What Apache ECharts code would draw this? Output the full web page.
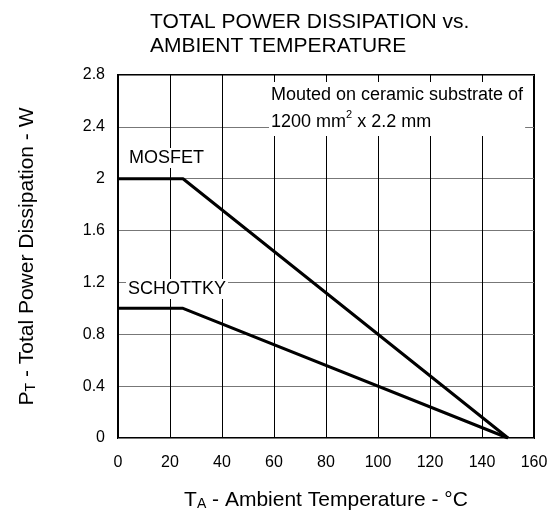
<!DOCTYPE html>
<html>
<head>
<meta charset="utf-8">
<script src="https://cdn.jsdelivr.net/npm/echarts@6/dist/echarts.min.js"></script>
<style>
  html, body { margin: 0; padding: 0; background: #fff; }
  #chart { width: 559px; height: 519px; }
</style>
</head>
<body>
<div id="chart"></div>
<script>
// 横轴温度 / 纵轴功耗
var xTicks = [0, 20, 40, 60, 80, 100, 120, 140, 160]
var yTicks = [0, 0.4, 0.8, 1.2, 1.6, 2, 2.4, 2.8]
var mosfetTemp = [0, 25, 150]
var mosfetPower = [2, 2, 0]
var schottkyTemp = [0, 25, 150]
var schottkyPower = [1, 1, 0]

function pairs (xs, ys) {
  return xs.map(function (x, i) { return [x, ys[i]] })
}

var chart = echarts.init(document.getElementById('chart'))
var font = 'Liberation Sans, Arial, sans-serif'

var option = {
  backgroundColor: '#fff',
  animation: false,
  title: {
    text: 'TOTAL POWER DISSIPATION vs.\nAMBIENT TEMPERATURE',
    left: 145,
    top: 5,
    textStyle: {
      fontFamily: font,
      fontWeight: 'normal',
      fontSize: 21,
      lineHeight: 24,
      color: '#000'
    }
  },
  grid: {
    left: 118,
    right: 25,
    top: 75,
    bottom: 81,
    show: true,
    borderColor: '#000',
    borderWidth: 2,
    backgroundColor: 'transparent'
  },
  xAxis: {
    type: 'value',
    min: xTicks[0],
    max: xTicks[xTicks.length - 1],
    interval: 20,
    name: '{b|T}{s|A}{b| - Ambient Temperature - °C}',
    nameLocation: 'middle',
    nameGap: 52,
    nameTextStyle: {
      rich: {
        b: { fontFamily: font, fontSize: 21, color: '#000' },
        s: { fontFamily: font, fontSize: 14, color: '#000', verticalAlign: 'bottom', padding: [7, 0, 0, 0] }
      }
    },
    axisLine: { show: false },
    axisTick: { show: false },
    axisLabel: { fontFamily: font, fontSize: 16, color: '#000', margin: 17 },
    splitLine: { show: true, lineStyle: { color: '#000', width: 1 } }
  },
  yAxis: {
    type: 'value',
    min: yTicks[0],
    max: yTicks[yTicks.length - 1],
    interval: 0.4,
    name: '{b|P}{s|T}{b| - Total Power Dissipation - W}',
    nameLocation: 'middle',
    nameGap: 80,
    nameRotate: 90,
    nameTextStyle: {
      rich: {
        b: { fontFamily: font, fontSize: 21, color: '#000' },
        s: { fontFamily: font, fontSize: 14, color: '#000', verticalAlign: 'bottom', padding: [7, 0, 0, 0] }
      }
    },
    axisLine: { show: false },
    axisTick: { show: false },
    axisLabel: { fontFamily: font, fontSize: 16, color: '#000', margin: 13 },
    splitLine: { show: true, lineStyle: { color: '#777', width: 1 } }
  },
  graphic: [
    {
      type: 'text',
      left: 269,
      top: 82,
      z: 50,
      style: {
        text: '{a|Mouted on ceramic substrate of}\n{a|1200 mm}{sup|2}{a| x 2.2 mm}',
        backgroundColor: '#fff',
        padding: [0, 2, 0, 2],
        rich: {
          a: { fontFamily: font, fontSize: 18, color: '#000', lineHeight: 27 },
          sup: { fontFamily: font, fontSize: 11, color: '#000', verticalAlign: 'top', lineHeight: 27, padding: [0, 0, 9, 0] }
        }
      }
    },
    {
      type: 'text',
      left: 127,
      top: 148,
      z: 50,
      style: {
        text: 'MOSFET',
        font: '18px ' + font,
        fill: '#000',
        backgroundColor: '#fff',
        padding: [1, 2]
      }
    },
    {
      type: 'text',
      left: 126,
      top: 279,
      z: 50,
      style: {
        text: 'SCHOTTKY',
        font: '18px ' + font,
        fill: '#000',
        backgroundColor: '#fff',
        padding: [1, 2]
      }
    }
  ],
  series: [
    {
      name: 'MOSFET',
      type: 'line',
      data: pairs(mosfetTemp, mosfetPower),
      symbol: 'none',
      lineStyle: { color: '#000', width: 3 },
      z: 10
    },
    {
      name: 'SCHOTTKY',
      type: 'line',
      data: pairs(schottkyTemp, schottkyPower),
      symbol: 'none',
      lineStyle: { color: '#000', width: 3 },
      z: 10
    }
  ]
}

chart.setOption(option)
</script>
</body>
</html>
